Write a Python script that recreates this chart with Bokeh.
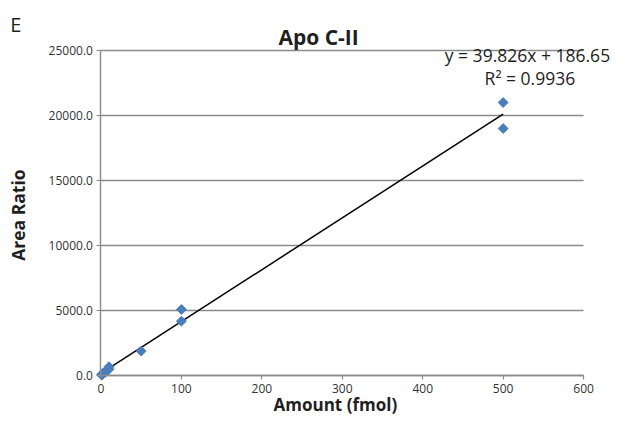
import math
from bokeh.plotting import figure
from bokeh.models import Range1d, NumeralTickFormatter, Label, FixedTicker
from bokeh.embed import file_html
from bokeh.resources import INLINE

# ---- data ----
amount = [1, 1, 2, 2, 5, 5, 10, 10, 50, 100, 100, 500, 500]
area_ratio = [60, 100, 120, 180, 250, 320, 500, 700, 1900, 4200, 5100, 19000, 21000]
slope = 39.826
intercept = 186.65
x_ticks = [0, 100, 200, 300, 400, 500, 600]
y_ticks = [0, 5000, 10000, 15000, 20000, 25000]
eq_text = "y = 39.826x + 186.65"
r2_text = "R² = 0.9936"
title_text = "Apo C-II"
panel_text = "E"
x_label = "Amount (fmol)"
y_label = "Area Ratio"

FONT = "Open Sans"
W, H = 613, 417


# map a position of the 629x433 original layout onto this 613x417 canvas
def cx(x):
    return 0.985 * x - 2


def cy(y):
    return 0.98 * y - 1


# plot-area placement inside the canvas (pixels)
fx0, fx1 = cx(104), cx(594)
fy_top, fy_bot = cy(52), cy(384)
xmax, ymax = 600, 25000
sx = (fx1 - fx0) / xmax
sy = (fy_bot - fy_top) / ymax

p = figure(width=W, height=H, output_backend="svg", toolbar_location=None,
           x_range=Range1d(-fx0 / sx, (W - fx0) / sx),
           y_range=Range1d(-(H - fy_bot) / sy, fy_bot / sy),
           min_border=0)
p.outline_line_color = None
p.background_fill_color = "white"
p.border_fill_color = "white"

p.xgrid.grid_line_color = None
p.ygrid.grid_line_color = "#8a8a8a"
p.ygrid.grid_line_width = 1.4
p.ygrid.cross_bounds = (0, xmax)

p.yaxis.ticker = FixedTicker(ticks=y_ticks)
p.xaxis.ticker = FixedTicker(ticks=x_ticks)
p.yaxis.formatter = NumeralTickFormatter(format="0.0")
p.xaxis.fixed_location = 0
p.yaxis.fixed_location = 0
p.xaxis.bounds = (0, xmax)
p.yaxis.bounds = (0, ymax)

for ax in (p.xaxis, p.yaxis):
    ax.axis_line_color = "#8a8a8a"
    ax.axis_line_width = 1.4
    ax.major_tick_line_color = "#8a8a8a"
    ax.major_tick_line_width = 1.2
    ax.major_tick_out = 4
    ax.major_tick_in = 0
    ax.minor_tick_line_color = None
    ax.major_label_standoff = 4
    ax.major_label_text_font = FONT
    ax.major_label_text_font_size = "12px"
    ax.major_label_text_color = "#333333"

x0, x1 = min(amount), max(amount)
p.line([x0, x1], [slope * x0 + intercept, slope * x1 + intercept], line_color="black", line_width=1.5)
p.scatter(amount, area_ratio, marker="square", angle=math.pi / 4, size=7,
          fill_color="#4a7ebb", line_color="#4a7ebb")


def lab(text, rx, ry, size, bold=False, baseline="alphabetic", angle=0.0):
    px, py = cx(rx), cy(ry)
    p.add_layout(Label(x=(px - fx0) / sx, y=(fy_bot - py) / sy, text=text, text_font=FONT,
                       text_font_size=size, text_font_style="bold" if bold else "normal",
                       text_align="center", text_baseline=baseline, angle=angle,
                       text_color="#1f1f1f"))


lab(panel_text, 17.5, 25, "20px")
lab(title_text, 325, 38, "21px", bold=True)
lab(eq_text, 537, 56.5, "17.5px")
lab(r2_text, 539.5, 80, "17.5px")
lab(x_label, 342, 413, "17px", bold=True)
lab(y_label, 20, 220, "17.5px", bold=True, baseline="middle", angle=math.pi / 2)

open("out.html", "w").write(file_html(p, INLINE))
